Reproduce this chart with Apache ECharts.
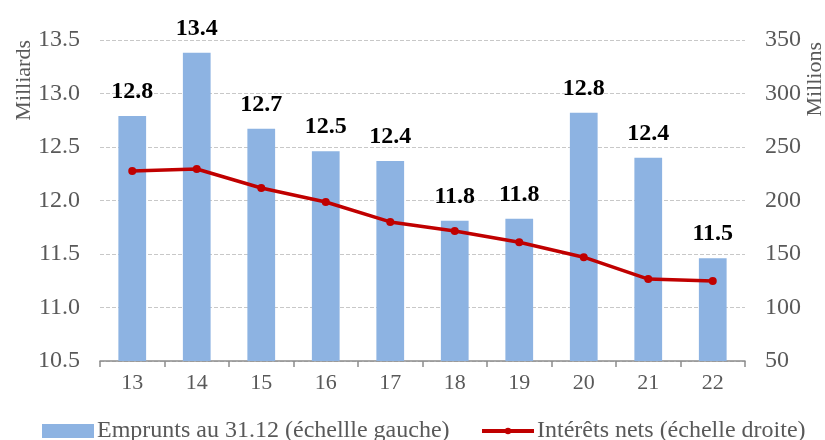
<!DOCTYPE html>
<html><head><meta charset="utf-8">
<script src="https://cdn.jsdelivr.net/npm/echarts@6/dist/echarts.min.js"></script>
<style>html,body{margin:0;padding:0;background:#fff}#c{width:825px;height:440px}</style>
</head><body><div id="c"></div>
<script>
const categories = ['13','14','15','16','17','18','19','20','21','22'];
const emprunts = [12.79, 13.38, 12.67, 12.46, 12.37, 11.81, 11.83, 12.82, 12.40, 11.46];
const interets = [227.6, 229.4, 211.7, 198.6, 180, 171.5, 161, 147, 126.6, 124.8];
const leftTicks = {min: 10.5, max: 13.5, interval: 0.5};
const rightTicks = {min: 50, max: 350, interval: 50};
const barName = 'Emprunts au 31.12 (échellle gauche)';
const lineName = 'Intérêts nets (échelle droite)';

const F = 'Liberation Serif, Times New Roman, serif';
const legendText = {fontFamily: F, fontSize: 24, color: '#595959', padding: [0,0,0,-2]};
const chart = echarts.init(document.getElementById('c'));
chart.setOption({
  animation: false,
  textStyle: {fontFamily: F},
  grid: {left: 100, right: 80, top: 40, bottom: 79},
  legend: [{
    top: 414, left: 37, itemWidth: 52, itemHeight: 14,
    textStyle: legendText,
    data: [{name: barName, icon: 'rect'}]
  }, {
    top: 414, left: 475, itemWidth: 52, itemHeight: 8,
    textStyle: legendText,
    lineStyle: {width: 4},
    data: [{name: lineName}]
  }],
  xAxis: {
    type: 'category', data: categories, boundaryGap: true,
    axisLine: {lineStyle: {color: '#8c8c8c', width: 1.5}},
    axisTick: {show: true, length: 6, lineStyle: {color: '#8c8c8c', width: 1.5}},
    axisLabel: {color: '#595959', fontSize: 22, margin: 11, fontFamily: F}
  },
  yAxis: [{
    type: 'value', min: leftTicks.min, max: leftTicks.max, interval: leftTicks.interval,
    axisLine: {show: false}, axisTick: {show: false},
    axisLabel: {color: '#595959', fontSize: 24, margin: 20, fontFamily: F,
      formatter: v => v.toFixed(1)},
    splitLine: {lineStyle: {color: '#c8c8c8', type: 'dashed', width: 1}}
  }, {
    type: 'value', min: rightTicks.min, max: rightTicks.max, interval: rightTicks.interval,
    axisLine: {show: false}, axisTick: {show: false},
    axisLabel: {color: '#595959', fontSize: 24, margin: 20, fontFamily: F},
    splitLine: {show: false}
  }],
  graphic: [
    {type: 'text', left: 13, top: 40, rotation: Math.PI/2,
     style: {text: 'Milliards', fill: '#595959', font: '22px ' + F}},
    {type: 'text', left: 804, top: 42, rotation: Math.PI/2,
     style: {text: 'Millions', fill: '#595959', font: '22px ' + F}}
  ],
  series: [{
    name: barName, type: 'bar', yAxisIndex: 0,
    data: emprunts, barWidth: '43%',
    itemStyle: {color: '#8db3e2'},
    label: {show: true, position: 'top', distance: 12, color: '#000', fontWeight: 'bold',
      fontSize: 24, fontFamily: F, formatter: p => p.value.toFixed(1)}
  }, {
    name: lineName, type: 'line', yAxisIndex: 1,
    data: interets, symbol: 'circle', symbolSize: 8,
    lineStyle: {color: '#c00000', width: 3.5},
    itemStyle: {color: '#c00000'}
  }]
});
</script></body></html>
